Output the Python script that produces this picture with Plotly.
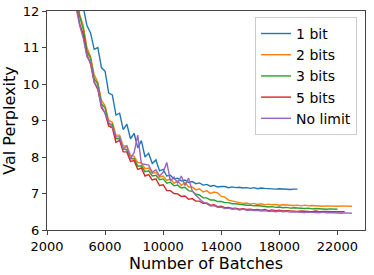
import plotly.graph_objects as go

batches = list(range(4000, 23001, 250))

labels = ["1 bit", "2 bits", "3 bits", "5 bits", "No limit"]
colors = ["#1f77b4", "#ff7f0e", "#2ca02c", "#d62728", "#9467bd"]

ppl_1bit = [
    13.0, 12.45, 12.1, 11.6, 11.4, 10.95, 11.0, 10.45, 10.35, 9.75, 9.7, 9.15,
    9.2, 8.75, 8.9, 8.5, 8.65, 8.25, 8.45, 8.0, 8.1, 7.82, 7.92, 7.62,
    7.66, 7.48, 7.5, 7.4, 7.42, 7.34, 7.37, 7.3, 7.33, 7.27, 7.29, 7.23,
    7.25, 7.2, 7.22, 7.18, 7.19, 7.19, 7.16, 7.18, 7.16, 7.17, 7.15, 7.16,
    7.14, 7.16, 7.13, 7.15, 7.14, 7.13, 7.14, 7.12, 7.13, 7.12, 7.13, 7.11,
    7.12, 7.12,
]
ppl_2bits = [
    12.5, 11.9, 11.6, 11.0, 10.75, 10.25, 10.05, 9.55, 9.4, 9.0, 8.95, 8.6,
    8.6, 8.3, 8.3, 8.05, 8.02, 7.85, 7.84, 7.68, 7.7, 7.55, 7.58, 7.45,
    7.48, 7.36, 7.4, 7.28, 7.35, 7.22, 7.3, 7.18, 7.18, 7.1, 7.13, 7.04,
    7.08, 7.0, 7.04, 7.02, 6.92, 6.9, 6.82, 6.8, 6.76, 6.76, 6.73, 6.74,
    6.71, 6.73, 6.7, 6.72, 6.69, 6.71, 6.69, 6.7, 6.68, 6.69, 6.68, 6.69,
    6.67, 6.68, 6.66, 6.68, 6.66, 6.67, 6.66, 6.67, 6.65, 6.66, 6.65, 6.66,
    6.65, 6.66, 6.65, 6.65, 6.65,
]
ppl_3bits = [
    12.4, 11.85, 11.5, 10.9, 10.7, 10.15, 10.0, 9.45, 9.35, 8.9, 8.9, 8.5,
    8.5, 8.22, 8.2, 7.95, 7.96, 7.75, 7.76, 7.6, 7.62, 7.48, 7.5, 7.38,
    7.4, 7.28, 7.31, 7.21, 7.23, 7.15, 7.17, 7.08, 7.06, 6.98, 6.96, 6.88,
    6.88, 6.82, 6.82, 6.78, 6.78, 6.75, 6.75, 6.72, 6.72, 6.7, 6.7, 6.68,
    6.68, 6.66, 6.67, 6.65, 6.65, 6.63, 6.64, 6.62, 6.63, 6.61, 6.62, 6.6,
    6.61, 6.6, 6.6, 6.59, 6.6, 6.58, 6.59, 6.58, 6.59, 6.57, 6.58, 6.57,
    6.57,
]
ppl_5bits = [
    12.2, 11.65, 11.35, 10.8, 10.55, 10.05, 9.85, 9.35, 9.2, 8.85, 8.8, 8.4,
    8.46, 8.14, 8.14, 7.88, 7.9, 7.66, 7.7, 7.48, 7.52, 7.37, 7.4, 7.22,
    7.24, 7.08, 7.08, 7.0, 6.99, 6.92, 6.93, 6.84, 6.86, 6.79, 6.79, 6.73,
    6.74, 6.68, 6.69, 6.64, 6.65, 6.61, 6.62, 6.59, 6.6, 6.57, 6.58, 6.56,
    6.57, 6.55, 6.56, 6.54, 6.56, 6.53, 6.55, 6.53, 6.54, 6.52, 6.53, 6.52,
    6.53, 6.51, 6.52, 6.51, 6.52, 6.5, 6.52, 6.5, 6.51, 6.5, 6.51, 6.5,
    6.5, 6.5, 6.5,
]
ppl_nolimit = [
    12.1, 11.6, 11.25, 10.75, 10.6, 10.05, 9.9, 9.4, 9.2, 8.95, 8.82, 8.55,
    8.55, 8.22, 8.3, 7.95, 8.12, 8.6, 7.82, 7.8, 7.78, 7.58, 7.65, 7.48,
    7.58, 7.85, 7.34, 7.45, 7.28, 7.48, 7.22, 7.42, 7.08, 6.95, 6.84, 6.76,
    6.72, 6.66, 6.67, 6.62, 6.63, 6.59, 6.6, 6.57, 6.58, 6.55, 6.57, 6.54,
    6.55, 6.53, 6.54, 6.52, 6.53, 6.51, 6.52, 6.5, 6.52, 6.5, 6.51, 6.49,
    6.5, 6.49, 6.5, 6.48, 6.49, 6.48, 6.49, 6.47, 6.49, 6.47, 6.48, 6.47,
    6.48, 6.46, 6.47, 6.46, 6.46,
]
series = [ppl_1bit, ppl_2bits, ppl_3bits, ppl_5bits, ppl_nolimit]

x_ticks = [2000, 6000, 10000, 14000, 18000, 22000]
y_ticks = [6, 7, 8, 9, 10, 11, 12]

fig = go.Figure()
for name, col, vals in zip(labels, colors, series):
    fig.add_trace(go.Scatter(
        x=batches[:len(vals)], y=vals, mode="lines", name=name,
        line=dict(color=col, width=1.4),
    ))

axis_common = dict(
    showgrid=False, zeroline=False, showline=True, linecolor="#444", linewidth=1,
    mirror=True, ticks="outside", ticklen=4, tickcolor="#444", automargin=False,
    tickfont=dict(family="DejaVu Sans", size=13, color="black"),
)
fig.update_xaxes(range=[2000, 23900], tickvals=x_ticks, ticktext=[str(v) for v in x_ticks],
                 title=dict(text="Number of Batches", font=dict(family="DejaVu Sans", size=16, color="black"), standoff=0),
                 **axis_common)
fig.update_yaxes(range=[6, 12], tickvals=y_ticks, ticktext=[str(v) for v in y_ticks],
                 title=dict(text="Val Perplexity", font=dict(family="DejaVu Sans", size=16, color="black"), standoff=4),
                 **axis_common)
fig.update_layout(
    width=374, height=275,
    margin=dict(l=47, r=9, t=11, b=45),
    paper_bgcolor="white", plot_bgcolor="white",
    legend=dict(x=0.975, y=0.973, xanchor="right", yanchor="top",
                bordercolor="#cccccc", borderwidth=1, bgcolor="rgba(255,255,255,0.8)",
                font=dict(family="DejaVu Sans", size=14, color="black"),
                itemwidth=30),
)
fig.write_html("out.html", config={"displayModeBar": False},
               post_script="document.body.style.margin='0';")
